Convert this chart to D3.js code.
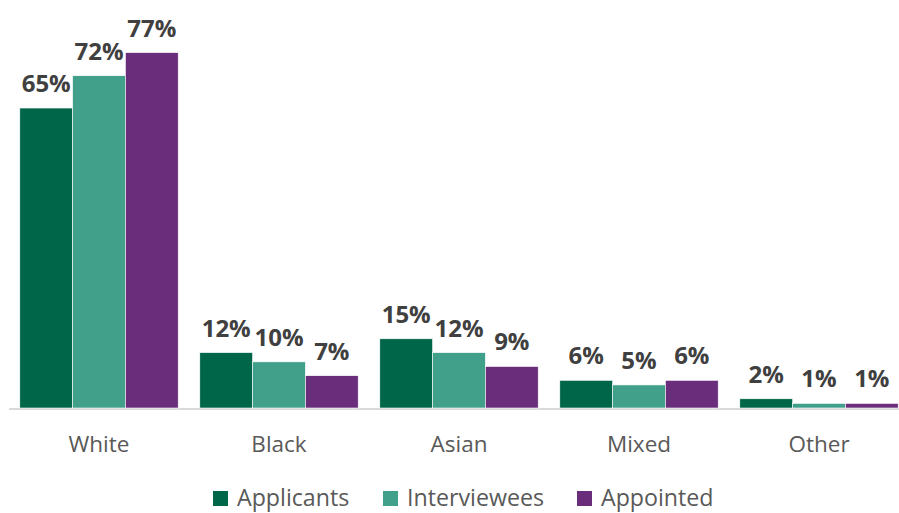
<!DOCTYPE html>
<html>
<head>
<meta charset="utf-8">
<script src="https://cdn.jsdelivr.net/npm/d3@7"></script>
<style>
  body { margin: 0; background: #fff; }
  text { font-family: 'Open Sans', sans-serif; }
</style>
</head>
<body>
<div class="chart"></div>
<script>
const width = 899
const height = 513

const categories = ['White', 'Black', 'Asian', 'Mixed', 'Other']
const seriesNames = ['Applicants', 'Interviewees', 'Appointed']
const applicants = [65, 12, 15, 6, 2]
const interviewees = [72, 10, 12, 5, 1]
const appointed = [77, 7, 9, 6, 1]

const colors = {
  Applicants: '#00664a',
  Interviewees: '#40a08a',
  Appointed: '#692d7c'
}

const values = [applicants, interviewees, appointed]
const rows = categories.map((c, i) => {
  const r = { category: c }
  seriesNames.forEach((s, j) => { r[s] = values[j][i] })
  return r
})

const svg = d3.select('.chart')
  .append('svg')
  .attr('width', width)
  .attr('height', height)

const x0 = d3.scaleBand()
  .domain(categories)
  .range([9, 909])
  .paddingInner(0.12)
  .paddingOuter(0.06)

const x1 = d3.scaleBand()
  .domain(seriesNames)
  .range([0, x0.bandwidth()])

const y = d3.scaleLinear()
  .domain([0, 80])
  .range([408, 38.8])

// baseline
svg.append('line')
  .attr('x1', 9)
  .attr('x2', width)
  .attr('y1', y(0) + 1)
  .attr('y2', y(0) + 1)
  .attr('stroke', '#d9d9d9')
  .attr('stroke-width', 2)

const group = svg.append('g')
  .selectAll('g')
  .data(rows)
  .join('g')
  .attr('transform', d => `translate(${x0(d.category)},0)`)

group.selectAll('rect')
  .data(d => seriesNames.map(s => ({ key: s, value: d[s] })))
  .join('rect')
  .attr('x', d => x1(d.key))
  .attr('y', d => y(d.value))
  .attr('width', x1.bandwidth())
  .attr('height', d => y(0) - y(d.value))
  .attr('fill', d => colors[d.key])
  .attr('stroke', '#fff')
  .attr('stroke-width', 0.6)

group.selectAll('text.value')
  .data(d => seriesNames.map(s => ({ key: s, value: d[s] })))
  .join('text')
  .attr('class', 'value')
  .attr('x', d => x1(d.key) + x1.bandwidth() / 2)
  .attr('y', d => y(d.value) - 16)
  .attr('text-anchor', 'middle')
  .attr('font-size', 24)
  .attr('font-weight', 700)
  .attr('fill', '#404040')
  .text(d => d.value + '%')

// category axis labels
const xAxis = svg.append('g')
  .attr('transform', `translate(0,${y(0)})`)
  .call(d3.axisBottom(x0).tickSize(0).tickPadding(0))
xAxis.select('.domain').remove()
xAxis.selectAll('text')
  .attr('y', 44)
  .attr('dy', 0)
  .attr('font-size', 22.5)
  .attr('font-family', "'Open Sans', sans-serif")
  .attr('fill', '#595959')

// legend
const legendX = [213, 383, 577]
const legend = svg.append('g')
  .selectAll('g')
  .data(seriesNames)
  .join('g')
  .attr('transform', (d, i) => `translate(${legendX[i]},0)`)

legend.append('rect')
  .attr('x', 0)
  .attr('y', 491)
  .attr('width', 15)
  .attr('height', 15)
  .attr('fill', d => colors[d])

legend.append('text')
  .attr('x', 24)
  .attr('y', 506)
  .attr('font-size', 23.2)
  .attr('fill', '#595959')
  .text(d => d)
</script>
</body>
</html>
